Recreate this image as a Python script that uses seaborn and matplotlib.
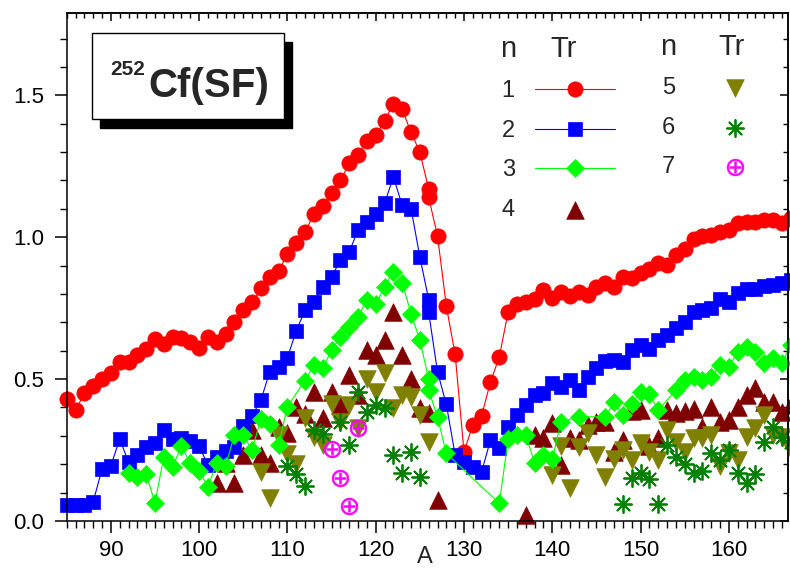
"""
Transition rates Tr versus fragment mass A for 252Cf(SF), n = 1..7.
Saves out.png (790x571).
"""

import matplotlib
matplotlib.use("Agg")
import matplotlib.pyplot as plt
from matplotlib.patches import Rectangle
from matplotlib.ticker import MultipleLocator, FormatStrFormatter
import seaborn as sns

# ── Data ───────────────────────────────────────────────────────────────────────
A1 = list(range(85, 127)) + [126] + list(range(127, 168))
TR1 = [0.43, 0.39, 0.45, 0.475, 0.50, 0.52, 0.56, 0.56, 0.585, 0.605,
       0.64, 0.625, 0.65, 0.645, 0.63, 0.61, 0.65, 0.63, 0.66, 0.70,
       0.745, 0.77, 0.82, 0.86, 0.88, 0.94, 0.98, 1.02, 1.08, 1.11,
       1.155, 1.20, 1.26, 1.29, 1.34, 1.36, 1.41, 1.47, 1.45, 1.37,
       1.30, 1.17, 1.14,
       1.005, 0.757, 0.587, 0.244, 0.338, 0.371, 0.49, 0.578,
       0.737, 0.764, 0.772, 0.784, 0.813, 0.786, 0.807, 0.792, 0.807, 0.796,
       0.825, 0.84, 0.823, 0.86, 0.857, 0.874, 0.889, 0.91, 0.901, 0.937,
       0.957, 0.992, 1.004, 1.007, 1.019, 1.025, 1.05, 1.054, 1.054, 1.06,
       1.062, 1.05, 1.066]

A2 = list(range(85, 127)) + [126] + list(range(127, 168))
TR2 = [0.056, 0.056, 0.056, 0.068, 0.183, 0.195, 0.288, 0.209, 0.232, 0.259,
       0.276, 0.32, 0.288, 0.291, 0.283, 0.264, 0.197, 0.226, 0.248, 0.262,
       0.335, 0.371, 0.426, 0.526, 0.543, 0.575, 0.67, 0.743, 0.772, 0.825,
       0.86, 0.919, 0.948, 1.025, 1.054, 1.083, 1.119, 1.212, 1.113, 1.101,
       0.931, 0.78, 0.735,
       0.526, 0.411, 0.232, 0.209, 0.191, 0.174, 0.285, 0.256,
       0.332, 0.373, 0.408, 0.444, 0.45, 0.485, 0.473, 0.496, 0.461, 0.508,
       0.538, 0.563, 0.568, 0.561, 0.602, 0.62, 0.605, 0.637, 0.655, 0.681,
       0.70, 0.737, 0.745, 0.752, 0.781, 0.772, 0.802, 0.819, 0.819, 0.827,
       0.831, 0.839, 0.849]

A3 = list(range(92, 111)) + [112, 113, 114, 115, 116, 117, 118, 119, 120,
                             121, 122, 123, 124, 125, 126, 126, 127, 128] \
    + list(range(134, 142)) + [143] + list(range(146, 153)) + list(range(154, 168))
TR3 = [0.17, 0.156, 0.165, 0.064, 0.226, 0.191, 0.264, 0.203, 0.176, 0.121,
       0.205, 0.194, 0.303, 0.303, 0.25, 0.36, 0.342, 0.268, 0.403,
       0.495, 0.55, 0.538, 0.602, 0.649, 0.684, 0.72, 0.778, 0.764,
       0.825, 0.878, 0.84, 0.731, 0.637, 0.50, 0.461, 0.367, 0.238,
       0.062, 0.288, 0.303, 0.303, 0.205, 0.232, 0.217, 0.35,
       0.367,
       0.367, 0.42, 0.373, 0.414, 0.455, 0.447, 0.391,
       0.461, 0.496, 0.508, 0.496, 0.508, 0.549, 0.543, 0.596, 0.614, 0.596,
       0.555, 0.573, 0.555, 0.62]

A4 = list(range(102, 128)) + list(range(137, 168))
TR4 = [0.133, 0.203, 0.133, 0.232, 0.32, 0.232, 0.203, 0.332, 0.309, 0.40,
       0.376, 0.455, 0.362, 0.455, 0.408, 0.514, 0.444, 0.602, 0.585, 0.637,
       0.737, 0.585, 0.502, 0.397, 0.379, 0.074,
       0.021, 0.303, 0.291, 0.346, 0.197, 0.291, 0.285, 0.338, 0.35, 0.35,
       0.244, 0.285, 0.388, 0.391, 0.264, 0.291, 0.391, 0.379, 0.388, 0.393,
       0.332, 0.40, 0.35, 0.356, 0.403, 0.444, 0.467, 0.42, 0.42, 0.385,
       0.408]

A5 = list(range(107, 127)) + list(range(140, 168))
TR5 = [0.174, 0.08, 0.303, 0.236, 0.20, 0.362, 0.297, 0.268, 0.414, 0.35,
       0.408, 0.326, 0.502, 0.455, 0.52, 0.397, 0.444, 0.438, 0.373, 0.28,
       0.162, 0.264, 0.115, 0.262, 0.309, 0.232, 0.156, 0.217, 0.25, 0.215,
       0.274, 0.244, 0.215, 0.32, 0.279, 0.244, 0.291, 0.291, 0.303, 0.194,
       0.238, 0.215, 0.297, 0.326, 0.373, 0.303, 0.297, 0.25]

A6 = [110, 111, 112, 113, 114, 116, 117, 118, 119, 120, 121, 122, 123, 124,
      125] + list(range(148, 168))
TR6 = [0.195, 0.165, 0.122, 0.32, 0.306, 0.35, 0.268, 0.455, 0.385, 0.408,
       0.397, 0.232, 0.168, 0.244, 0.155,
       0.06, 0.15, 0.168, 0.147, 0.06, 0.268, 0.226, 0.20, 0.17, 0.177,
       0.238, 0.215, 0.25, 0.17, 0.135, 0.165, 0.279, 0.332, 0.297, 0.279]

A7 = [115, 116, 117, 118]
TR7 = [0.252, 0.15, 0.053, 0.326]

# ── Style ──────────────────────────────────────────────────────────────────────
W, H = 790, 571
AX_LEFT, AX_RIGHT, AX_TOP, AX_BOTTOM = 66.7, 788, 13, 521   # pixels

sns.set_style("ticks")
plt.rcParams.update({
    "font.family": ["Liberation Sans", "DejaVu Sans"],
    "axes.linewidth": 1.1,
    "xtick.major.width": 1.1,
    "ytick.major.width": 1.1,
    "xtick.minor.width": 1.0,
    "ytick.minor.width": 1.0,
    "xtick.color": "black",
    "ytick.color": "black",
    "axes.edgecolor": "black",
})

fig, ax = plt.subplots(figsize=(W / 100, H / 100), dpi=100)
fig.subplots_adjust(left=AX_LEFT / W, right=AX_RIGHT / W,
                    bottom=1 - AX_BOTTOM / H, top=1 - AX_TOP / H)

# ── Series with lines ─────────────────────────────────────────────────────────
line_series = [
    (A1, TR1, "#FF0000", "o", 11.0),
    (A2, TR2, "#0000FF", "s", 9.5),
    (A3, TR3, "#00FF00", "D", 9.5),
]
handles = []
for a, tr, col, mk, ms in line_series:
    sns.lineplot(x=a, y=tr, ax=ax, color=col, marker=mk, markersize=ms,
                 markeredgecolor=col, markeredgewidth=0.5, linewidth=0.8,
                 estimator=None, sort=False, legend=False, clip_on=False)
    handles.append(ax.lines[-1])

# ── Marker-only series ────────────────────────────────────────────────────────
scatter_series = [
    (A4, TR4, "#800000", "^", 160, 0.5),
    (A5, TR5, "#808000", "v", 160, 0.5),
    (A6, TR6, "#008000", (8, 2, 0), 150, 1.3),
    (A7, TR7, "#FF00FF", "$\\oplus$", 150, 0.3),
]
for a, tr, col, mk, s, lw in scatter_series:
    sns.scatterplot(x=a, y=tr, ax=ax, color=col, marker=mk, s=s,
                    edgecolor=col, linewidth=lw, legend=False, clip_on=False)
    handles.append(ax.collections[-1])

# ── Axes ──────────────────────────────────────────────────────────────────────
ax.set_xlim(85, 166.7)
ax.set_ylim(0, 1.79)
ax.xaxis.set_major_locator(MultipleLocator(10))
ax.xaxis.set_minor_locator(MultipleLocator(1))
ax.yaxis.set_major_locator(MultipleLocator(0.5))
ax.yaxis.set_minor_locator(MultipleLocator(0.1))
ax.yaxis.set_major_formatter(FormatStrFormatter("%.1f"))
ax.tick_params(which="major", direction="out", length=8.5, labelsize=16, pad=5)
ax.tick_params(which="minor", direction="out", length=5)
ax.tick_params(axis="y", which="major", pad=8)
for side in ("top", "right"):
    ax.spines[side].set_visible(True)

sec_x = ax.secondary_xaxis("top")
sec_x.xaxis.set_major_locator(MultipleLocator(10))
sec_x.xaxis.set_minor_locator(MultipleLocator(1))
sec_x.tick_params(which="major", direction="in", length=6, labeltop=False)
sec_x.tick_params(which="minor", direction="in", length=3.5)
sec_y = ax.secondary_yaxis("right")
sec_y.yaxis.set_major_locator(MultipleLocator(0.5))
sec_y.yaxis.set_minor_locator(MultipleLocator(0.1))
sec_y.tick_params(which="major", direction="in", length=6, labelright=False)
sec_y.tick_params(which="minor", direction="in", length=3.5)

ax.set_xlabel("A", fontsize=17)
ax.xaxis.set_label_coords(0.497, -0.05)
ax.set_ylabel("")

# ── Legends (label first, then symbol) ────────────────────────────────────────
leg_kw = dict(loc="upper left", markerfirst=False, frameon=False, fontsize=17,
              handlelength=3.4, handletextpad=0.85, labelspacing=0.75,
              borderpad=0, borderaxespad=0, scatterpoints=1, numpoints=1)
leg1 = ax.legend(handles[:4], ["1", "2", "3", "4"],
                 bbox_to_anchor=(0.603, 0.868), **leg_kw)
ax.add_artist(leg1)
ax.legend(handles[4:], ["5", "6", "7"], bbox_to_anchor=(0.825, 0.874), **leg_kw)

for xa, ya, txt in [(0.612, 0.913, "n"), (0.6885, 0.913, "Tr"),
                    (0.834, 0.918, "n"), (0.922, 0.918, "Tr")]:
    ax.text(xa, ya, txt, transform=ax.transAxes, ha="center", va="baseline",
            fontsize=21)

# ── Title box with drop shadow ────────────────────────────────────────────────
bx0, by0, bx1, by1 = 92.3, 33.3, 284, 119   # pixels, top-left origin
shadow = Rectangle(((bx0 + 8) / W, 1 - (by1 + 8.5) / H), (bx1 - bx0) / W,
                   (by1 - by0) / H, transform=fig.transFigure,
                   facecolor="black", edgecolor="black", zorder=5)
box = Rectangle((bx0 / W, 1 - by1 / H), (bx1 - bx0) / W, (by1 - by0) / H,
                transform=fig.transFigure, facecolor="white",
                edgecolor="black", linewidth=1.0, zorder=6)
fig.add_artist(shadow)
fig.add_artist(box)
fig.text(110 / W, 1 - 75 / H, "252", fontsize=15, fontweight="bold",
         ha="left", va="baseline", zorder=7)
fig.text(148 / W, 1 - 96.7 / H, "Cf(SF)", fontsize=29, fontweight="bold",
         ha="left", va="baseline", zorder=7)

fig.savefig("out.png", dpi=100)
plt.close(fig)
